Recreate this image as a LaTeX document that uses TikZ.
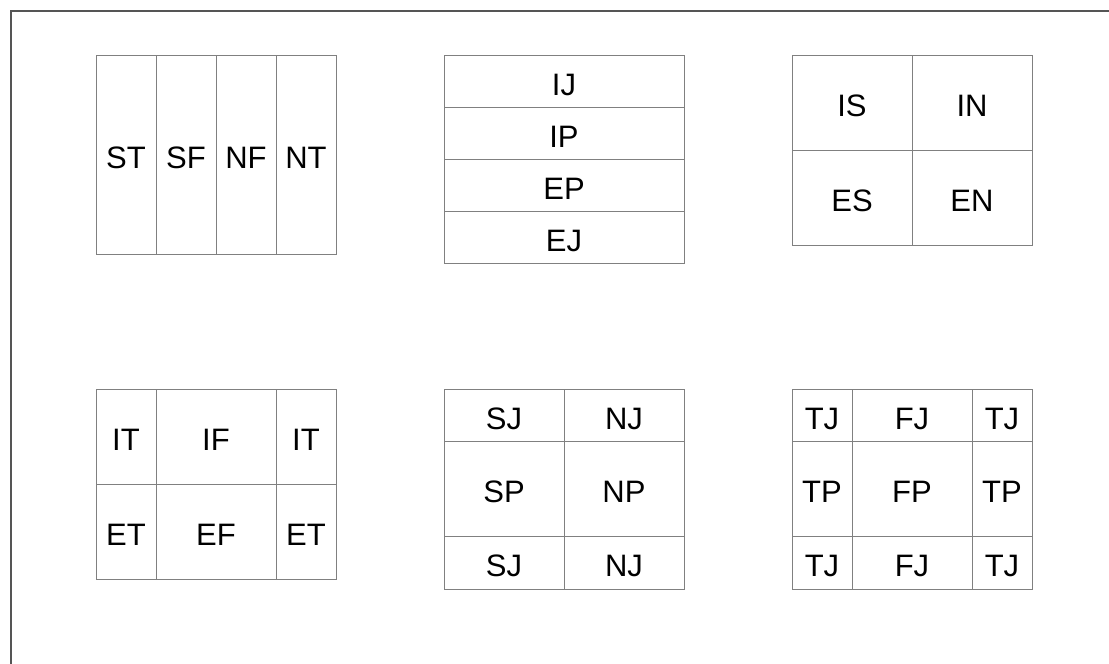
\documentclass[tikz,border=0pt]{standalone}
\usepackage{fontspec}
\setmainfont{Liberation Sans}
\definecolor{cellline}{HTML}{808080}
\definecolor{frameline}{HTML}{555555}
\tikzset{
  cell/.style={draw=cellline, line width=1pt, rectangle, inner sep=0pt, outer sep=0pt,
    font=\fontsize{31}{34}\selectfont, text=black, text height=28.5pt, text depth=0pt},
}
\begin{document}
\begin{tikzpicture}[x=1pt,y=-1pt]
\useasboundingbox (0,0) rectangle (1109,664);
\coordinate (fbl) at (11,664);
\coordinate (ftl) at (11,11);
\coordinate (ftr) at (1109,11);
\draw[frameline, line width=1.2pt] (fbl) -- (ftl) -- (ftr);
% Box 1
\node[cell, minimum width=60pt, minimum height=199pt] (st) at (126,154.5) {ST};
\node[cell, minimum width=60pt, minimum height=199pt] (sf) at (186,154.5) {SF};
\node[cell, minimum width=60pt, minimum height=199pt] (nf) at (246,154.5) {NF};
\node[cell, minimum width=60pt, minimum height=199pt] (nt) at (306,154.5) {NT};
% Box 2
\node[cell, minimum width=240pt, minimum height=52pt] (ij) at (564,81) {IJ};
\node[cell, minimum width=240pt, minimum height=52pt] (ip) at (564,133) {IP};
\node[cell, minimum width=240pt, minimum height=52pt] (ep) at (564,185) {EP};
\node[cell, minimum width=240pt, minimum height=52pt] (ej) at (564,237) {EJ};
% Box 3
\node[cell, minimum width=120pt, minimum height=95pt] (is) at (852,102.5) {IS};
\node[cell, minimum width=120pt, minimum height=95pt] (in) at (972,102.5) {IN};
\node[cell, minimum width=120pt, minimum height=95pt] (es) at (852,197.5) {ES};
\node[cell, minimum width=120pt, minimum height=95pt] (en) at (972,197.5) {EN};
% Box 4
\node[cell, minimum width=60pt, minimum height=95pt] (it1) at (126,436.5) {IT};
\node[cell, minimum width=120pt, minimum height=95pt] (if) at (216,436.5) {IF};
\node[cell, minimum width=60pt, minimum height=95pt] (it2) at (306,436.5) {IT};
\node[cell, minimum width=60pt, minimum height=95pt] (et1) at (126,531.5) {ET};
\node[cell, minimum width=120pt, minimum height=95pt] (ef) at (216,531.5) {EF};
\node[cell, minimum width=60pt, minimum height=95pt] (et2) at (306,531.5) {ET};
% Box 5
\node[cell, minimum width=120pt, minimum height=52pt] (sj1) at (504,415) {SJ};
\node[cell, minimum width=120pt, minimum height=52pt] (nj1) at (624,415) {NJ};
\node[cell, minimum width=120pt, minimum height=95pt] (sp) at (504,488.5) {SP};
\node[cell, minimum width=120pt, minimum height=95pt] (np) at (624,488.5) {NP};
\node[cell, minimum width=120pt, minimum height=53pt] (sj2) at (504,562.5) {SJ};
\node[cell, minimum width=120pt, minimum height=53pt] (nj2) at (624,562.5) {NJ};
% Box 6
\node[cell, minimum width=60pt, minimum height=52pt] (tj1) at (822,415) {TJ};
\node[cell, minimum width=120pt, minimum height=52pt] (fj1) at (912,415) {FJ};
\node[cell, minimum width=60pt, minimum height=52pt] (tj2) at (1002,415) {TJ};
\node[cell, minimum width=60pt, minimum height=95pt] (tp1) at (822,488.5) {TP};
\node[cell, minimum width=120pt, minimum height=95pt] (fp) at (912,488.5) {FP};
\node[cell, minimum width=60pt, minimum height=95pt] (tp2) at (1002,488.5) {TP};
\node[cell, minimum width=60pt, minimum height=53pt] (tj3) at (822,562.5) {TJ};
\node[cell, minimum width=120pt, minimum height=53pt] (fj2) at (912,562.5) {FJ};
\node[cell, minimum width=60pt, minimum height=53pt] (tj4) at (1002,562.5) {TJ};
\end{tikzpicture}
\end{document}
